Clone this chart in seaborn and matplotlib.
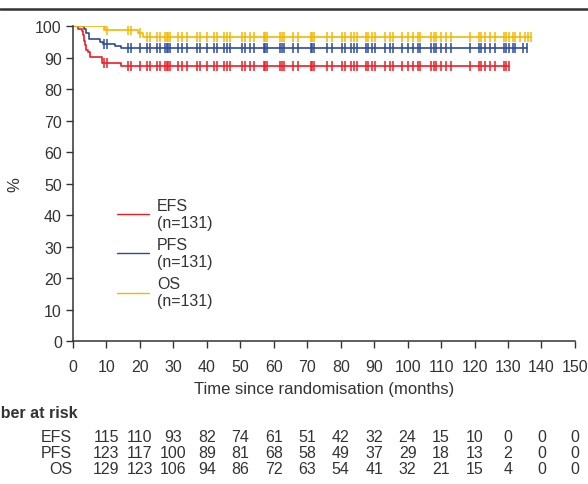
import matplotlib.pyplot as plt
import matplotlib.transforms as mtransforms
from matplotlib.lines import Line2D
import numpy as np
import pandas as pd
import seaborn as sns

# Courbes de Kaplan-Meier (temps des événements en mois, survie en %)
efs_times = [0, 1.6, 2.8, 3.1, 3.4, 3.7, 4.0, 4.5, 5.1, 8.6, 14.5]
efs_surv = [100, 99.2, 98.5, 97.0, 95.4, 93.9, 92.4, 91.6, 90.3, 88.4, 87.4]
pfs_times = [0, 3.4, 3.8, 4.8, 8.1, 9.1, 12.5, 14.5]
pfs_surv = [100, 99.2, 97.7, 96.0, 94.9, 94.3, 93.6, 93.0]
os_times = [0, 9.6, 19.5, 21.0]
os_surv = [100, 98.6, 97.7, 96.6]

# Censures (mois)
common_censor = [9.3, 10.2, 16.5, 17.2, 20, 22, 23, 25, 26, 27.5, 28, 28.5, 29,
                 31.5, 32.5, 34, 37, 38, 40, 42, 43, 45, 46, 47, 50.5, 51.5, 53,
                 54, 57, 57.5, 58, 62, 62.5, 63, 65.8, 67.3, 71, 71.5, 72, 75.8,
                 77.3, 80.5, 81.2, 83, 84, 85, 87.5, 88.2, 89.5, 90.3, 93.2, 94.7,
                 95.7, 98.2, 100.2, 101.7, 103, 103.8, 107, 107.8, 108.5, 110.1,
                 111.6, 113.1, 118.6, 121.2, 122, 123.1, 124.6, 126.1, 128.8, 129.5]
efs_censor = common_censor + [130.3]
pfs_censor = common_censor + [130.3, 131.5, 132.1, 134.6, 135.6]
os_censor = common_censor + [130.3, 131.5, 132.1, 133.6, 135.1, 136.1, 136.8]

labels = ["EFS\n(n=131)", "PFS\n(n=131)", "OS\n(n=131)"]
colors = ["#ED1C24", "#2E4A9E", "#F5B800"]

# Nombre de patients à risque
risk_times = [10, 20, 30, 40, 50, 60, 70, 80, 90, 100, 110, 120, 130, 140, 150]
risk_names = ["EFS", "PFS", "OS"]
efs_risk = [115, 110, 93, 82, 74, 61, 51, 42, 32, 24, 15, 10, 0, 0, 0]
pfs_risk = [123, 117, 100, 89, 81, 68, 58, 49, 37, 29, 18, 13, 2, 0, 0]
os_risk = [129, 123, 106, 94, 86, 72, 63, 54, 41, 32, 21, 15, 4, 0, 0]

sns.set_theme(style="ticks")
plt.rcParams["font.family"] = ["Liberation Sans", "DejaVu Sans"]
text_col = "#333333"

fig = plt.figure(figsize=(5.88, 4.85), dpi=100)
ax = fig.add_axes([0.1241, 0.2948, 0.8537, 0.6495])

series = [
    (efs_times, efs_surv, efs_censor),
    (pfs_times, pfs_surv, pfs_censor),
    (os_times, os_surv, os_censor),
]
for (t, s, c), lab, col in zip(series, labels, colors):
    t_line = list(t) + [max(c)]
    s_line = list(s) + [s[-1]]
    df = pd.DataFrame({"time": t_line, "surv": s_line})
    sns.lineplot(data=df, x="time", y="surv", ax=ax, color=col, linewidth=1.2,
                 drawstyle="steps-post", estimator=None, sort=False, label=lab)
    idx = np.searchsorted(np.array(t), np.array(c), side="right") - 1
    cdf = pd.DataFrame({"time": c, "surv": np.array(s)[idx]})
    ax.plot(cdf["time"], cdf["surv"], linestyle="none", marker="|",
            markersize=7, markeredgewidth=1.1, color=col)

ax.set_xlim(0, 150)
ax.set_ylim(0, 100)
ax.set_xticks(range(0, 151, 10))
ax.set_yticks(range(0, 101, 10))
ax.tick_params(axis="both", labelsize=11.5, colors=text_col, length=5, width=1)
ax.tick_params(axis="x", pad=8)
ax.tick_params(axis="y", pad=3)
for side in ["top", "right"]:
    ax.spines[side].set_visible(False)
for side in ["left", "bottom"]:
    ax.spines[side].set_color(text_col)
    ax.spines[side].set_linewidth(1.1)
ax.set_xlabel("Time since randomisation (months)", fontsize=12, color=text_col,
              labelpad=5)
ax.set_ylabel("%", fontsize=12, color=text_col, labelpad=9)

leg = ax.legend(loc="upper left", bbox_to_anchor=(0.088, 0.455), frameon=False,
                fontsize=11.5, handlelength=2.0, handletextpad=0.5,
                labelspacing=0.42, borderaxespad=0, borderpad=0)
for txt in leg.get_texts():
    txt.set_color(text_col)
for line in leg.get_lines():
    line.set_linewidth(1.0)

# Ligne horizontale en haut de la figure
fig.add_artist(Line2D([0, 1], [0.980, 0.980], transform=fig.transFigure,
                      color=text_col, linewidth=1.8))

# Tableau des patients à risque
trans = mtransforms.blended_transform_factory(ax.transData, fig.transFigure)
fig.text(-0.06, 0.148, "Number at risk", fontsize=11.5, fontweight="bold",
         color=text_col, va="center", ha="left")
row_y = [0.098, 0.064, 0.031]
for name, vals, yy in zip(risk_names, [efs_risk, pfs_risk, os_risk], row_y):
    ax.text(-0.3, yy, name, transform=trans, ha="right", va="center",
            fontsize=11.5, color=text_col, clip_on=False)
    for tt, v in zip(risk_times, vals):
        ax.text(tt, yy, str(v), transform=trans, ha="center", va="center",
                fontsize=11.5, color=text_col, clip_on=False)

plt.savefig("out.png", dpi=100)
plt.close()
